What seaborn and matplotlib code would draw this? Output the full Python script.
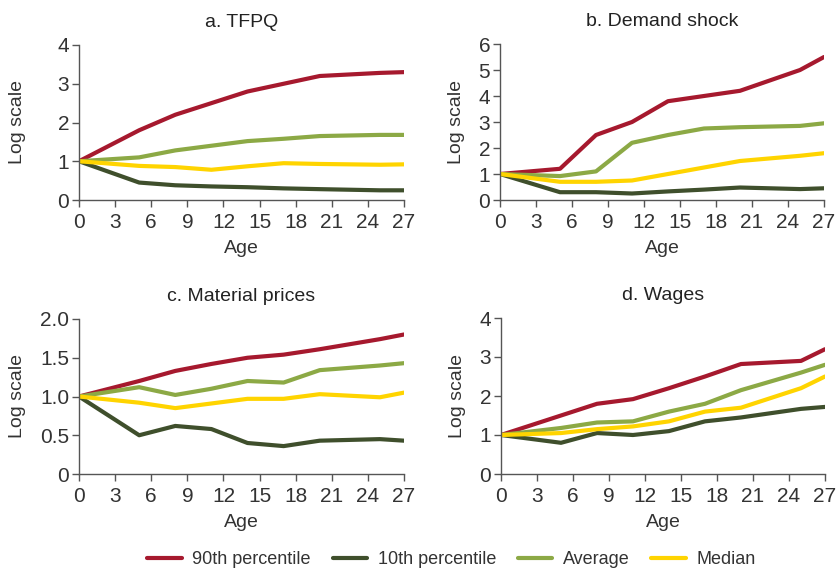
import numpy as np
import pandas as pd
import matplotlib
matplotlib.use("Agg")
import matplotlib.pyplot as plt
import seaborn as sns

# Вік фірми (роки)
age = [0, 5, 8, 11, 14, 17, 20, 25, 27]
series_names = ["90th percentile", "10th percentile", "Average", "Median"]

# a. TFPQ
tfpq_p90 = [1, 1.8, 2.2, 2.5, 2.8, 3.0, 3.2, 3.28, 3.3]
tfpq_p10 = [1, 0.45, 0.38, 0.35, 0.33, 0.30, 0.28, 0.25, 0.25]
tfpq_avg = [1, 1.1, 1.28, 1.4, 1.52, 1.58, 1.65, 1.68, 1.68]
tfpq_med = [1, 0.88, 0.85, 0.78, 0.87, 0.95, 0.93, 0.91, 0.92]

# b. Demand shock
dem_p90 = [1, 1.2, 2.5, 3.0, 3.8, 4.0, 4.2, 5.0, 5.5]
dem_p10 = [1, 0.3, 0.3, 0.25, 0.33, 0.4, 0.48, 0.42, 0.45]
dem_avg = [1, 0.92, 1.1, 2.2, 2.5, 2.75, 2.8, 2.85, 2.95]
dem_med = [1, 0.7, 0.7, 0.75, 1.0, 1.25, 1.5, 1.7, 1.8]

# c. Material prices
mat_p90 = [1, 1.2, 1.33, 1.42, 1.5, 1.54, 1.61, 1.74, 1.8]
mat_p10 = [1, 0.5, 0.62, 0.58, 0.4, 0.36, 0.43, 0.45, 0.43]
mat_avg = [1, 1.12, 1.02, 1.1, 1.2, 1.18, 1.34, 1.4, 1.43]
mat_med = [1, 0.92, 0.85, 0.91, 0.97, 0.97, 1.03, 0.99, 1.05]

# d. Wages
wag_p90 = [1, 1.5, 1.8, 1.92, 2.2, 2.5, 2.82, 2.9, 3.2]
wag_p10 = [1, 0.8, 1.05, 1.0, 1.1, 1.35, 1.45, 1.67, 1.72]
wag_avg = [1, 1.18, 1.32, 1.35, 1.6, 1.8, 2.15, 2.6, 2.8]
wag_med = [1, 1.05, 1.15, 1.22, 1.35, 1.6, 1.7, 2.2, 2.5]

panels = [
    ("a. TFPQ", [tfpq_p90, tfpq_p10, tfpq_avg, tfpq_med], [0, 1, 2, 3, 4], ["0", "1", "2", "3", "4"]),
    ("b. Demand shock", [dem_p90, dem_p10, dem_avg, dem_med], [0, 1, 2, 3, 4, 5, 6], ["0", "1", "2", "3", "4", "5", "6"]),
    ("c. Material prices", [mat_p90, mat_p10, mat_avg, mat_med], [0, 0.5, 1.0, 1.5, 2.0], ["0", "0.5", "1.0", "1.5", "2.0"]),
    ("d. Wages", [wag_p90, wag_p10, wag_avg, wag_med], [0, 1, 2, 3, 4], ["0", "1", "2", "3", "4"]),
]

palette = {"90th percentile": "#A6192E", "10th percentile": "#3F4F2C",
           "Average": "#8CA945", "Median": "#FFD400"}

sns.set_theme(style="ticks")
plt.rcParams["font.family"] = ["Liberation Sans", "DejaVu Sans"]
plt.rcParams["axes.edgecolor"] = "#555555"
plt.rcParams["xtick.color"] = "#555555"
plt.rcParams["ytick.color"] = "#555555"
plt.rcParams["xtick.labelcolor"] = "#333333"
plt.rcParams["ytick.labelcolor"] = "#333333"

fig = plt.figure(figsize=(8.36, 5.69), dpi=100)
boxes = [(79, 45, 404, 200), (500, 44, 824, 200), (79, 319, 404, 474), (501, 318, 825, 474)]
ylabel_x = [26, 465, 26, 466]
W, H = 836, 569

for (title, vals, yt, ytl), (x0, y0, x1, y1), lx in zip(panels, boxes, ylabel_x):
    ax = fig.add_axes([x0 / W, 1 - y1 / H, (x1 - x0) / W, (y1 - y0) / H])
    rows = []
    for name, v in zip(series_names, vals):
        for a, val in zip(age, v):
            rows.append({"Age": a, "value": val, "series": name})
    df = pd.DataFrame(rows)
    sns.lineplot(data=df, x="Age", y="value", hue="series", hue_order=series_names,
                 palette=palette, linewidth=3, ax=ax, legend=False)
    ax.set_xlim(0, 27)
    ax.set_ylim(yt[0], yt[-1])
    ax.set_xticks(range(0, 28, 3))
    ax.set_yticks(yt)
    ax.set_yticklabels(ytl)
    ax.tick_params(axis="x", labelsize=15, length=5, width=1, pad=4)
    ax.tick_params(axis="y", labelsize=15, length=5, width=1, pad=2)
    ax.set_xlabel("Age", fontsize=14, color="#333333", labelpad=6)
    ax.set_ylabel("Log scale", fontsize=14, color="#333333")
    ax.yaxis.set_label_coords((lx - x0) / (x1 - x0), 0.5)
    ax.set_title(title, fontsize=14, color="#222222", pad=13)
    sns.despine(ax=ax)
    ax.spines["left"].set_linewidth(1)
    ax.spines["bottom"].set_linewidth(1)

handles = [plt.Line2D([0], [0], color=palette[n], lw=3) for n in series_names]
fig.legend(handles, series_names, loc="lower center", ncol=4, frameon=False,
           fontsize=13, bbox_to_anchor=(0.54, -0.027), handlelength=1.9,
           columnspacing=1.2, handletextpad=0.6, labelcolor="#333333")

fig.savefig("out.png", dpi=100)
